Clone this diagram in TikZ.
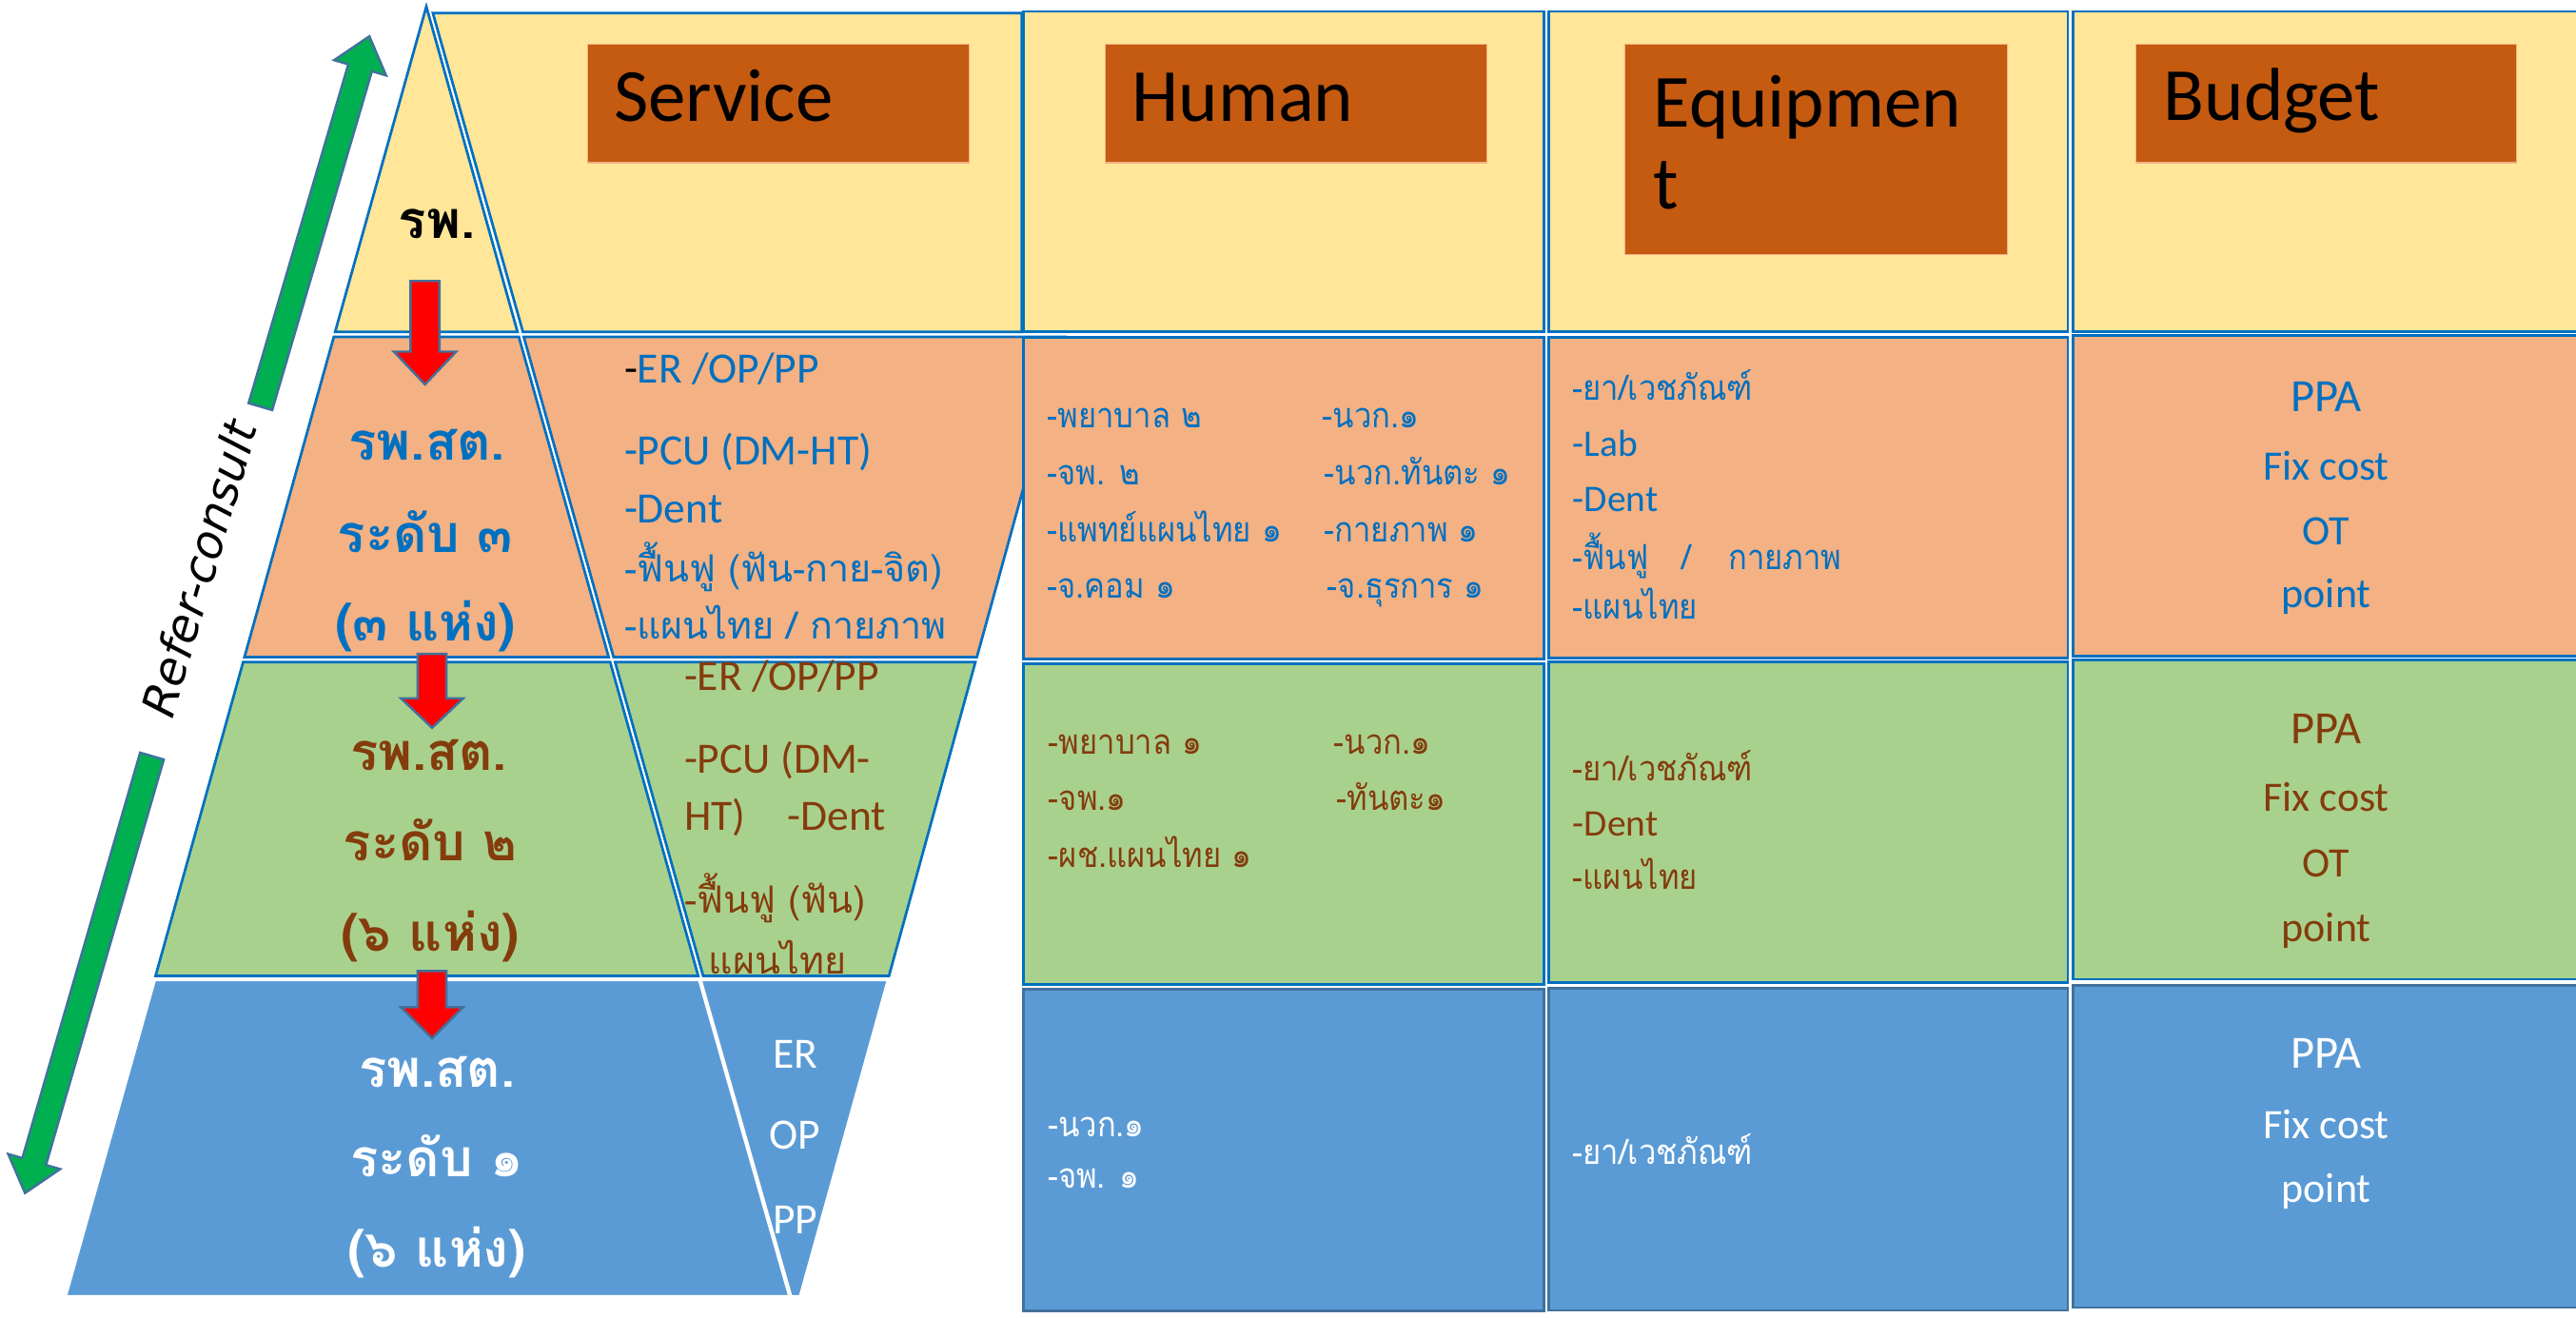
\documentclass[tikz,border=0pt]{standalone}
\usepackage{fontspec}
\setmainfont{Carlito}
\newfontfamily\thaifont[Script=Thai]{Loma}
\newfontfamily\thainarrow[Script=Thai, FakeStretch=0.9]{Loma}
\newfontfamily\reffont{DejaVu Sans}
\newcommand\setfs[1]{\fontsize{#1pt}{#1pt}\selectfont}
\definecolor{cyel}{HTML}{FFE699}
\definecolor{corg}{HTML}{F4B183}
\definecolor{cgrn}{HTML}{A9D18E}
\definecolor{cblu}{HTML}{5B9BD5}
\definecolor{cbord}{HTML}{0070C0}
\definecolor{chead}{HTML}{C55A11}
\definecolor{tblue}{HTML}{0070C0}
\definecolor{tbrown}{HTML}{843C0C}
\definecolor{cgray}{HTML}{41719C}
\definecolor{cgarrow}{HTML}{00B050}
\definecolor{cred}{HTML}{FF0000}
\begin{document}
\begin{tikzpicture}[x=0.02cm,y=-0.02cm,
  tl/.style={inner sep=0pt, outer sep=0pt, anchor=base west},
  tc/.style={inner sep=0pt, outer sep=0pt, anchor=base},
  bline/.style={draw=cbord, line width=0.9pt},
  wline/.style={draw=white, line width=0.9pt},
  gline/.style={draw=cgray, line width=0.9pt},
  headbox/.style={fill=chead, draw=corg, line width=0.4pt},
  rarrow/.style={fill=cred, draw=cgray, line width=0.8pt},
  garrow/.style={fill=cgarrow, draw=cgray, line width=0.8pt},
  lat/.style={font=\setfs{15}},
  thc/.style={font=\thaifont\setfs{13}},
  lvl/.style={tc, font=\thaifont\bfseries\setfs{18}},
  hum/.style={tl, font=\thainarrow\setfs{12}},
  eqt/.style={tl, font=\thainarrow\setfs{12}},
  eql/.style={tl, font=\setfs{13}},
  bud/.style={tc, font=\setfs{14.5}},
  budp/.style={tc, font=\setfs{16}},
  head/.style={tl, font=\setfs{26}, text=black}
]
\useasboundingbox (0,0) rectangle (1568,802);
\clip (0,0) rectangle (1568,802);

% ---------------- yellow row (pyramid top + service) ----------------
\path[fill=cyel, bline] (263.5,8) -- (622,8) -- (622,202) -- (318.3,202) -- cycle;
\path[fill=cyel, bline] (259.5,4) -- (315,202) -- (204,202) -- cycle;
\node[tc, font=\thaifont\bfseries\setfs{18}, text=black] (L0) at (266,145) {รพ.};

% ---------------- orange row ----------------
\path[fill=corg, bline] (318.8,205) -- (648.3,205) -- (594.6,400) -- (373.5,400) -- cycle;
\path[fill=corg, bline] (203.2,205) -- (315.8,205) -- (370.5,400) -- (148.8,400) -- cycle;

% ---------------- green row ----------------
\path[fill=cgrn, bline] (374.4,403) -- (593.7,403) -- (541.1,594) -- (428,594) -- cycle;
\path[fill=cgrn, bline] (148,403) -- (371.4,403) -- (425,594) -- (94.7,594) -- cycle;

% ---------------- texts of orange and green rows (pyramid + service) ----------------
\node[lvl, text=tblue] (o1) at (260,280) {รพ.สต.};
\node[lvl, text=tblue] (o2) at (259,336) {ระดับ ๓};
\node[lvl, text=tblue] (o3) at (259,390) {(๓ แห่ง)};
\node[lvl, text=tbrown] (g1) at (261,469) {รพ.สต.};
\node[lvl, text=tbrown] (g2) at (262,524) {ระดับ ๒};
\node[lvl, text=tbrown] (g3) at (262,579) {(๖ แห่ง)};

\node[tl, lat, text=tblue] (so1) at (380,233) {{\color{black}-}ER /OP/PP};
\node[tl, lat, text=tblue] (so2) at (380,283) {-PCU (DM-HT)};
\node[tl, lat, text=tblue] (so3) at (380,318) {-Dent};
\node[tl, thc, text=tblue] (so4) at (380,354) {-ฟื้นฟู (ฟัน-กาย-จิต)};
\node[tl, thc, text=tblue] (so5) at (380,389) {-แผนไทย / กายภาพ};

\node[tl, lat, text=tbrown] (sg1) at (416.5,420) {-ER /OP/PP};
\node[tl, lat, text=tbrown] (sg2) at (416.5,470.5) {-PCU (DM-};
\node[tl, lat, text=tbrown] (sg3) at (416.5,505.5) {HT)};
\node[tl, lat, text=tbrown] (sg4) at (479.5,505.5) {-Dent};
\node[tl, thc, text=tbrown] (sg5) at (416.5,556) {-ฟื้นฟู (ฟัน)};
\node[tl, thc, text=tbrown] (sg6) at (431.5,593) {แผนไทย};

% ---------------- blue row ----------------
\path[fill=cblu, wline] (426.5,596.5) -- (540.5,596.5) -- (487,789) -- (481.5,789) -- cycle;
\path[fill=cblu, wline] (94.2,596.5) -- (425.6,596.5) -- (480.5,789) -- (40,789) -- cycle;

\node[lvl, text=white] (b1) at (266,662) {รพ.สต.};
\node[lvl, text=white] (b2) at (266,716) {ระดับ ๑};
\node[lvl, text=white] (b3) at (266,771) {(๖ แห่ง)};
\node[tc, lat, text=white] (sb1) at (484,650) {ER};
\node[tc, lat, text=white] (sb2) at (484,699.5) {OP};
\node[tc, lat, text=white] (sb3) at (484,751) {PP};

% ---------------- table cells ----------------
% Human
\path[fill=cyel, bline] (623,7) rectangle (940,202);
\path[fill=corg, bline] (623,205.5) rectangle (940,401);
\path[fill=cgrn, bline] (623,404) rectangle (940,599);
\path[fill=cblu, gline] (623,602) rectangle (940,798);
% Equipment
\path[fill=cyel, bline] (942.5,7) rectangle (1258.7,202);
\path[fill=corg, bline] (942.5,205.5) rectangle (1258.7,400.5);
\path[fill=cgrn, bline] (942.5,403) rectangle (1258.7,598);
\path[fill=cblu, gline] (942.5,601.5) rectangle (1258.7,797.6);
% Budget
\path[fill=cyel, bline] (1262,7) rectangle (1580,201.7);
\path[fill=corg, bline] (1262,204.3) rectangle (1580,399.5);
\path[fill=cgrn, bline] (1262,401.7) rectangle (1580,596);
\path[fill=cblu, gline] (1262,599.8) rectangle (1580,795.8);

% ---------------- headers ----------------
\path[headbox] (357.5,27) rectangle (590,99);
\path[headbox] (673,27) rectangle (905,99);
\path[headbox] (989,27) rectangle (1222,155);
\path[headbox] (1300,27) rectangle (1532,99);
\node[head] (hs) at (373.8,73.7) {Service};
\node[head] (hh) at (689,74) {Human};
\node[head] (he1) at (1006.5,77.5) {Equipmen};
\node[head] (he2) at (1006.5,127) {t};
\node[head] (hb) at (1317,73.5) {Budget};

% ---------------- Human texts ----------------
\node[hum, text=tblue] (h1) at (637.6,260.3) {-พยาบาล ๒};
\node[hum, text=tblue] (h2) at (637.6,295.2) {-จพ. ๒};
\node[hum, text=tblue] (h3) at (637.6,330) {-แพทย์แผนไทย ๑};
\node[hum, text=tblue] (h4) at (637.6,363.8) {-จ.คอม ๑};
\node[hum, text=tblue] (h5) at (805,260.3) {-นวก.๑};
\node[hum, text=tblue] (h6) at (806.2,295.2) {-นวก.ทันตะ ๑};
\node[hum, text=tblue] (h7) at (806.2,330) {-กายภาพ ๑};
\node[hum, text=tblue] (h8) at (808,363.8) {-จ.ธุรการ ๑};

\node[hum, text=tbrown] (h9) at (638.3,459) {-พยาบาล ๑};
\node[hum, text=tbrown] (h10) at (638.3,493) {-จพ.๑};
\node[hum, text=tbrown] (h11) at (638.3,528) {-ผช.แผนไทย ๑};
\node[hum, text=tbrown] (h12) at (811.9,459) {-นวก.๑};
\node[hum, text=tbrown] (h13) at (813.7,493) {-ทันตะ๑};

\node[hum, text=white] (h14) at (637.9,691.8) {-นวก.๑};
\node[hum, text=white] (h15) at (637.9,723) {-จพ. ๑};

% ---------------- Equipment texts ----------------
\node[eqt, text=tblue] (e1) at (957.4,243.5) {-ยา/เวชภัณฑ์};
\node[eql, text=tblue] (e2) at (957.4,277.6) {-Lab};
\node[eql, text=tblue] (e3) at (957.4,311.2) {-Dent};
\node[eqt, text=tblue] (e4) at (957.4,346.4) {-ฟื้นฟู};
\node[eqt, text=tblue] (e5) at (1024,346.4) {/};
\node[eqt, text=tblue] (e6) at (1052,346.4) {กายภาพ};
\node[eqt, text=tblue] (e7) at (957.4,376.7) {-แผนไทย};

\node[eqt, text=tbrown] (e8) at (957.4,475) {-ยา/เวชภัณฑ์};
\node[eql, text=tbrown] (e9) at (957.4,509) {-Dent};
\node[eqt, text=tbrown] (e10) at (957.4,541) {-แผนไทย};

\node[eqt, text=white] (e11) at (957.4,708.5) {-ยา/เวชภัณฑ์};

% ---------------- Budget texts ----------------
\node[budp, text=tblue] (u1) at (1416,250.4) {PPA};
\node[bud, text=tblue] (u2) at (1416,292) {Fix cost};
\node[bud, text=tblue] (u3) at (1416,331.5) {OT};
\node[bud, text=tblue] (u4) at (1416,370) {point};

\node[budp, text=tbrown] (u5) at (1416,452.4) {PPA};
\node[bud, text=tbrown] (u6) at (1416,494) {Fix cost};
\node[bud, text=tbrown] (u7) at (1416,533.5) {OT};
\node[bud, text=tbrown] (u8) at (1416,573.3) {point};

\node[budp, text=white] (u9) at (1416,650) {PPA};
\node[bud, text=white] (u10) at (1416,693) {Fix cost};
\node[bud, text=white] (u11) at (1416,732) {point};

% ---------------- red down arrows ----------------
\path[rarrow] (249.9,171) -- (267.5,171) -- (267.5,214) -- (277.7,214) -- (258.7,234) -- (239.7,214) -- (249.9,214) -- cycle;
\path[rarrow] (254.2,398) -- (271.8,398) -- (271.8,425) -- (282,425) -- (263,443) -- (244,425) -- (254.2,425) -- cycle;
\path[rarrow] (254.2,591) -- (271.8,591) -- (271.8,613) -- (282,613) -- (263,632) -- (244,613) -- (254.2,613) -- cycle;

% ---------------- green refer-consult arrows ----------------
\begin{scope}[shift={(158.5,247.5)}, rotate=73.6]
\path[garrow] (0,-7.5) -- (215,-7.5) -- (215,-16.5) -- (235,0) -- (215,16.5) -- (215,7.5) -- (0,7.5) -- cycle;
\end{scope}
\begin{scope}[shift={(92.5,460.2)}, rotate=253.8]
\path[garrow] (0,-7.5) -- (257,-7.5) -- (257,-16.5) -- (277,0) -- (257,16.5) -- (257,7.5) -- (0,7.5) -- cycle;
\end{scope}
\node[inner sep=0pt, rotate=73.7, font=\reffont\itshape\setfs{16}] (rc) at (121,346) {Refer-consult};

\end{tikzpicture}
\end{document}
